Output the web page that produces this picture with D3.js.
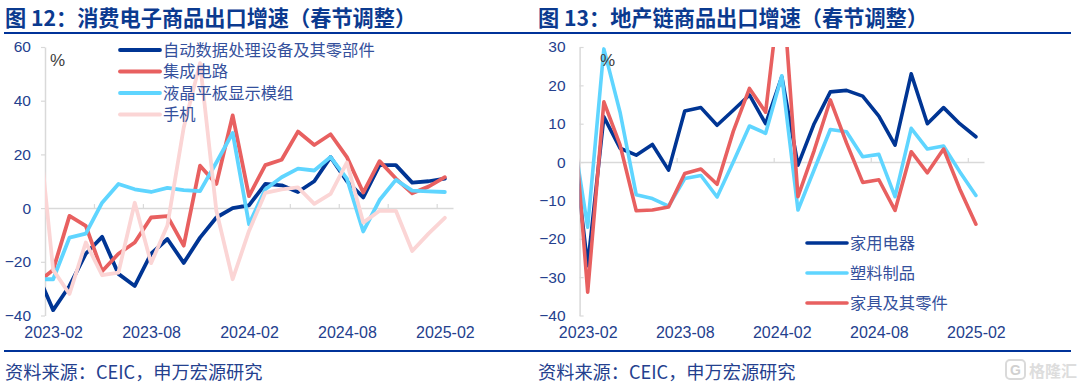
<!DOCTYPE html>
<html>
<head>
<meta charset="utf-8">
<script src="https://cdn.jsdelivr.net/npm/d3@7"></script>
<style>
html, body { margin: 0; padding: 0; background: #fff; }
svg { display: block; }
text { font-family: "Liberation Sans", "Noto Sans CJK SC", sans-serif; }
.cjk { font-family: "Noto Sans CJK SC", sans-serif; }
</style>
</head>
<body>
<div id="chart"></div>
<script>
// first entry of every series is 2023-01, it sits left of the axis and gets clipped
const months = ['2023-01',
    '2023-02', '2023-03', '2023-04', '2023-05', '2023-06', '2023-07',
    '2023-08', '2023-09', '2023-10', '2023-11', '2023-12', '2024-01',
    '2024-02', '2024-03', '2024-04', '2024-05', '2024-06', '2024-07',
    '2024-08', '2024-09', '2024-10', '2024-11', '2024-12', '2025-01', '2025-02'];
const monthLabels = ['2023-02', '2023-08', '2024-02', '2024-08', '2025-02'];

const adpParts = [-24, -38, -29, -17, -10.7, -24.5, -29, -17, -11.5, -20.4, -11, -3.5, 0, 1, 9, 8.5, 6, 10, 19, 10, 4, 16, 16, 9.5, 10, 11];
const circuits = [-28, -23, -2.9, -6.6, -23.5, -17, -12.8, -3.5, -3, -14, 15.8, 9, 34.5, 4.5, 16, 18, 28.5, 23.5, 27.5, 19, 5.8, 17.5, 11, 5.5, 8, 11.5];
const lcdPanels = [-26.5, -26.5, -11, -9.5, 2, 9, 7, 6, 7.5, 6.7, 6.3, 17, 28, -6, 7, 11.5, 14.7, 14, 19, 11, -8.7, 3, 10.5, 6.5, 6.2, 6];
const phones = [37, -23, -32, -12.8, -25, -24, 2, -20.5, -6.5, 30, 54, -1, -26.5, -8.5, 5.7, 7, 7.7, 1.6, 5.3, 17, -5.4, -1, -1, -16, -9.5, -3.6];

const appliances = [9, -27, 11.8, 3.6, 1.8, 4.6, -2.1, 13.3, 14.2, 9.6, 13.5, 17.5, 10, 22.2, -0.8, 10, 18.3, 18.7, 17.2, 12, 4.4, 23, 10, 14.2, 10, 6.6];
const plastics = [10, -17, 29.5, 13, -8.5, -9.5, -11.5, -4.3, -3.5, -9.1, 0, 9.4, 7.5, 22.5, -12.5, -2, 8.5, 7.9, 1.4, 2, -9, 8.8, 3.4, 4.2, -2.5, -8.7];
const furniture = [20, -33.9, 15.7, 4.5, -12.7, -12.5, -11.7, -3, -1.8, -5.8, 8, 19.2, 13, 49, -9, 3, 16.2, 5, -5.3, -4.6, -12.6, 2.7, -2.8, 3.4, -7, -16.2];

const leftTicks = [-40, -20, 0, 20, 40, 60];
const rightTicks = [-40, -30, -20, -10, 0, 10, 20, 30];

const NAVY = '#003594';
const RED = '#E86060';
const CYAN = '#5FD5FF';
const PINK = '#FBD5D5';
const TEXT_BLUE = '#24408E';
const LEGEND_BLUE = '#34509C';
const AXIS_GRAY = '#D9D9D9';

const svg = d3.select('#chart').append('svg')
    .attr('width', 1080)
    .attr('height', 386);

function drawPanel(opts) {
    const { id, left, right, domain, ticks, tickEvery, tickOutside, series, legend, lineWidth } = opts;
    const top = 47;
    const bottom = 315.5;
    const step = (right - left) / 25;

    // 26 months, the first one half a step outside of the axis
    const x = d3.scalePoint().domain(months).range([left - step / 2, right - step / 2]);
    const y = d3.scaleLinear().domain(domain).range([bottom, top]);
    const edge = d3.scaleLinear().domain([0, 25]).range([left, right]);

    const g = svg.append('g').attr('class', id);

    g.append('clipPath').attr('id', `clip-${id}`)
        .append('rect')
        .attr('x', left)
        .attr('y', top)
        .attr('width', right - left + 10)
        .attr('height', bottom - top + 10);

    // y axis
    const yAxis = d3.axisLeft(y)
        .tickValues(ticks)
        .tickSizeInner(tickOutside ? 4 : -4)
        .tickSizeOuter(0)
        .tickPadding(tickOutside ? 10 : 14);
    const yG = g.append('g').attr('transform', `translate(${left},0)`).call(yAxis);
    yG.selectAll('line').attr('stroke', AXIS_GRAY).attr('stroke-width', 1.2);
    yG.select('.domain').attr('stroke', AXIS_GRAY).attr('stroke-width', 1.5);
    yG.selectAll('text')
        .attr('fill', TEXT_BLUE)
        .style('font-size', '15.5px');

    // zero line with the small ticks on the band edges
    const xAxis = d3.axisBottom(edge)
        .tickValues(d3.range(tickEvery, 25, tickEvery))
        .tickSizeInner(-4)
        .tickSizeOuter(0)
        .tickFormat('');
    const xG = g.append('g').attr('transform', `translate(0,${y(0)})`).call(xAxis);
    xG.selectAll('line').attr('stroke', AXIS_GRAY).attr('stroke-width', 1.2);
    xG.select('.domain').attr('stroke', AXIS_GRAY).attr('stroke-width', 1.5);

    // month labels sit under the plot, not at zero
    const labelAxis = d3.axisBottom(x).tickValues(monthLabels).tickSize(0).tickPadding(11);
    const labelG = g.append('g').attr('transform', `translate(0,${bottom})`).call(labelAxis);
    labelG.select('.domain').remove();
    labelG.selectAll('text')
        .attr('fill', TEXT_BLUE)
        .style('font-size', '16px');

    const line = d3.line()
        .x((d, i) => x(months[i]))
        .y(d => y(d));

    g.append('g')
        .attr('clip-path', `url(#clip-${id})`)
        .selectAll('path')
        .data(series)
        .enter()
        .append('path')
        .attr('d', d => line(d.values))
        .attr('fill', 'none')
        .attr('stroke', d => d.color)
        .attr('stroke-width', lineWidth)
        .attr('stroke-linejoin', 'round')
        .attr('stroke-linecap', 'round');

    // legend
    const item = g.append('g').selectAll('g')
        .data(legend.items)
        .enter()
        .append('g')
        .attr('transform', (d, i) => `translate(${legend.x},${legend.y + i * legend.gap})`);
    item.append('line')
        .attr('x2', legend.len)
        .attr('stroke', d => d.color)
        .attr('stroke-width', lineWidth)
        .attr('stroke-linecap', 'round');
    item.append('text')
        .attr('class', 'cjk')
        .attr('x', legend.len + 3)
        .attr('dy', '0.35em')
        .attr('fill', LEGEND_BLUE)
        .style('font-size', '16.3px')
        .text(d => d.name);

    g.append('text')
        .attr('x', opts.percentX)
        .attr('y', 66)
        .attr('fill', '#404040')
        .style('font-size', '17px')
        .text('%');
}

const s1 = [
    { name: '自动数据处理设备及其零部件', color: NAVY, values: adpParts },
    { name: '集成电路', color: RED, values: circuits },
    { name: '液晶平板显示模组', color: CYAN, values: lcdPanels },
    { name: '手机', color: PINK, values: phones },
];
drawPanel({
    id: 'electronics',
    left: 45,
    right: 453,
    domain: [-40, 60],
    ticks: leftTicks,
    tickEvery: 3,
    tickOutside: true,
    series: s1,
    lineWidth: 3.8,
    percentX: 50,
    legend: { x: 120, y: 50, gap: 21.5, len: 40, items: s1 },
});

const s2 = [
    { name: '家用电器', color: NAVY, values: appliances },
    { name: '塑料制品', color: CYAN, values: plastics },
    { name: '家具及其零件', color: RED, values: furniture },
];
drawPanel({
    id: 'property',
    left: 579.6,
    right: 984,
    domain: [-40, 30],
    ticks: rightTicks,
    tickEvery: 6,
    tickOutside: false,
    series: s2,
    lineWidth: 3.6,
    percentX: 600,
    legend: { x: 807, y: 243, gap: 30, len: 40, items: s2 },
});

// titles and rules
svg.selectAll('.title')
    .data([
        { x: 5, text: '图 12：消费电子商品出口增速（春节调整）' },
        { x: 538, text: '图 13：地产链商品出口增速（春节调整）' },
    ])
    .enter()
    .append('text')
    .attr('class', 'title cjk')
    .attr('x', d => d.x)
    .attr('y', 26)
    .attr('fill', '#0B3A8F')
    .style('font-size', '21.2px')
    .style('font-weight', 700)
    .text(d => d.text);

svg.selectAll('.rule')
    .data([33, 351])
    .enter()
    .append('line')
    .attr('x1', 4)
    .attr('x2', 1071)
    .attr('y1', d => d)
    .attr('y2', d => d)
    .attr('stroke', '#003399')
    .attr('stroke-width', 2);

svg.selectAll('.source')
    .data([5, 538])
    .enter()
    .append('text')
    .attr('class', 'source cjk')
    .attr('x', d => d)
    .attr('y', 379)
    .attr('fill', TEXT_BLUE)
    .style('font-size', '18.2px')
    .text('资料来源：CEIC，申万宏源研究');

// watermark
const mark = svg.append('g').attr('transform', 'translate(1006,360)');
mark.append('rect')
    .attr('width', 19)
    .attr('height', 19)
    .attr('rx', 4)
    .attr('fill', 'none')
    .attr('stroke', '#DADADA')
    .attr('stroke-width', 2);
mark.append('text')
    .attr('x', 9.5)
    .attr('y', 15)
    .attr('text-anchor', 'middle')
    .attr('fill', '#D0D0D0')
    .style('font-size', '14px')
    .style('font-weight', 700)
    .text('G');
mark.append('text')
    .attr('class', 'cjk')
    .attr('x', 23)
    .attr('y', 17)
    .attr('fill', '#DDDDDD')
    .style('font-size', '16px')
    .style('font-weight', 700)
    .text('格隆汇');
</script>
</body>
</html>
